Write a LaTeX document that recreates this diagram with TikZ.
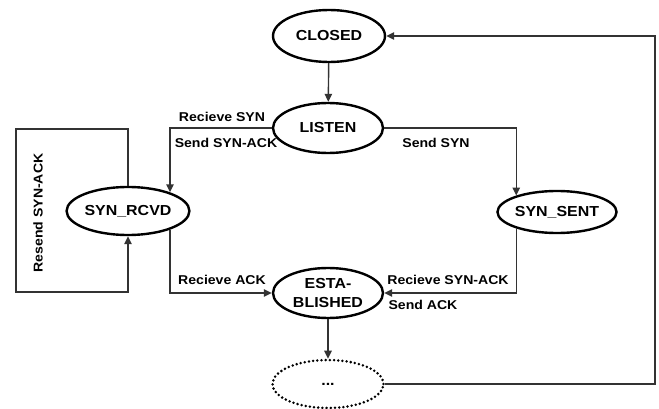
\documentclass[tikz,border=0pt]{standalone}
\usepackage{fontspec}
\setmainfont{Liberation Sans}[FakeStretch=1.1]
\usetikzlibrary{shapes.geometric,arrows.meta}
\begin{document}
\begin{tikzpicture}[x=1pt,y=-1pt,
  state/.style={ellipse,draw=black,line width=2.4pt,inner sep=0pt,
    minimum width=110pt,minimum height=50pt,align=center,
    font=\fontsize{14.5}{19}\selectfont\bfseries},
  dotstate/.style={state,line width=2.8pt,dash pattern=on 0pt off 4.2pt,line cap=round},
  lbl/.style={font=\fontsize{12.8}{15}\selectfont\bfseries,inner sep=0pt},
  conn/.style={draw=black!80,line width=1.4pt},
  arr/.style={conn,-{Triangle[length=8pt,width=7.5pt]}}]
\useasboundingbox (0,0) rectangle (659,409);
\node[state,minimum width=112pt,minimum height=52pt] (closed) at (329,36) {CLOSED};
\node[state] (listen) at (328,128) {LISTEN};
\node[state,minimum width=106pt,minimum height=48pt] (rcvd) at (128,211) {SYN\_RCVD};
\node[state,minimum width=110pt,minimum height=42pt] (sent) at (557,212) {SYN\_SENT};
\node[state] (est) at (328,293) {ESTA-\\BLISHED};
\node[dotstate,minimum width=111pt,minimum height=48pt] (dots) at (328,384) {...};
\coordinate (lt) at (16,129);
\coordinate (lb) at (16,292);
\coordinate (rt) at (655,0);
% edges
\draw[arr] (closed) -- (listen);
\draw[arr] (listen.west) -| (rcvd.24);
\draw[arr] (listen.east) -| (sent.158);
\draw[arr] (rcvd.north) |- (lt) -- (lb) -| (rcvd.south);
\draw[arr] (rcvd.-24) |- (est.west);
\draw[arr] (sent.202) |- (est.east);
\draw[arr] (est) -- (dots);
\draw[arr] (dots.east) -- (dots.east -| rt) |- (closed.east);
% labels
\node[lbl] (l1) at (222,117) {Recieve SYN};
\node[lbl] (l2) at (226,143) {Send SYN-ACK};
\node[lbl] (l3) at (436,143) {Send SYN};
\node[lbl,rotate=90] (l4) at (38,213) {Resend SYN-ACK};
\node[lbl] (l5) at (222,280) {Recieve ACK};
\node[lbl] (l6) at (448,280) {Recieve SYN-ACK};
\node[lbl] (l7) at (423,305) {Send ACK};
\end{tikzpicture}
\end{document}
